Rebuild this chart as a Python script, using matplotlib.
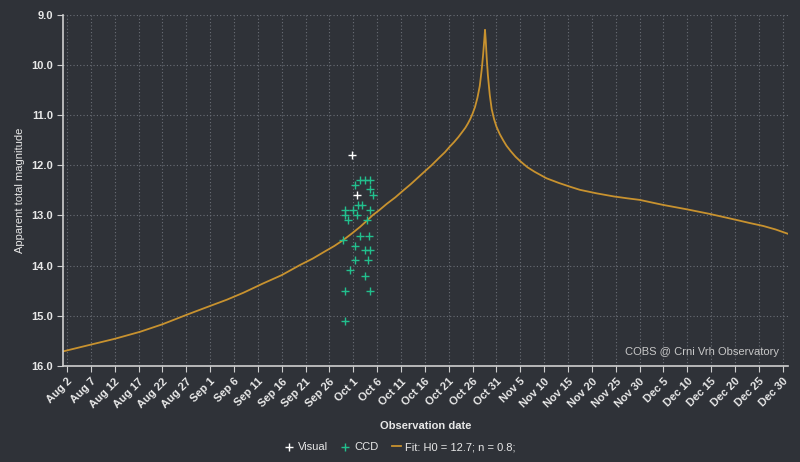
import numpy as np
import matplotlib
matplotlib.use("Agg")
import matplotlib.pyplot as plt
import pandas as pd

plt.rcParams['font.family'] = ['Liberation Sans', 'DejaVu Sans']

start = pd.Timestamp('2024-08-02')

# fitted light curve (days after Aug 2, magnitude)
fit_days = [-0.8, 4.8, 10.0, 15.3, 20.0, 25.1, 29.0, 33.5, 37.0, 41.0, 45.0, 48.8,
            51.5, 54.0, 56.0, 57.9, 59.7, 61.4, 62.8, 64.0, 65.5, 67.0, 68.8,
            70.5, 72.0, 73.5, 75.0, 76.4, 78.1, 79.2, 80.2, 81.1, 82.0, 82.8,
            83.5, 84.0, 84.5, 85.0, 85.5, 86.0, 86.5, 86.9, 87.2, 87.45, 87.6,
            87.75, 87.95, 88.2, 88.6, 89.0, 89.5, 90.0, 90.7, 91.4, 92.1, 93.0,
            94.0, 95.0, 96.5, 98.0, 100.5, 103.0, 105.5, 107.5, 111.0, 114.5,
            117.5, 120.0, 124.9, 130.0, 134.7, 140.3, 143.0, 145.9, 148.5, 151.2]
fit_mag = [15.71, 15.58, 15.46, 15.32, 15.17, 14.98, 14.84, 14.68, 14.54, 14.36, 14.19, 13.99,
           13.86, 13.72, 13.61, 13.49, 13.36, 13.23, 13.11, 13.00, 12.89, 12.77, 12.64,
           12.50, 12.38, 12.25, 12.12, 12.00, 11.84, 11.74, 11.63, 11.54, 11.44, 11.34,
           11.25, 11.17, 11.08, 10.97, 10.84, 10.66, 10.42, 10.10, 9.80, 9.50, 9.30,
           9.50, 9.85, 10.20, 10.60, 10.88, 11.08, 11.23, 11.38, 11.50, 11.61, 11.72,
           11.83, 11.92, 12.04, 12.13, 12.26, 12.35, 12.43, 12.49, 12.56, 12.62,
           12.66, 12.69, 12.79, 12.88, 12.97, 13.09, 13.15, 13.21, 13.28, 13.37]

# visual observations
vis_days = [59.8, 60.8]
vis_mag = [11.79, 12.59]

# CCD observations
ccd_days = [60.3, 61.4, 62.4, 63.5, 63.5, 64.1, 61.0, 61.8, 58.2, 59.9, 63.5,
            58.2, 60.8, 58.9, 62.9, 57.8, 61.4, 63.3, 60.3, 62.4, 63.5, 60.3,
            63.1, 59.3, 62.4, 58.2, 63.5, 58.2]
ccd_mag = [12.39, 12.29, 12.29, 12.29, 12.47, 12.59, 12.79, 12.79, 12.89, 12.89, 12.89,
           12.99, 12.99, 13.09, 13.09, 13.49, 13.41, 13.41, 13.61, 13.69, 13.69, 13.89,
           13.89, 14.09, 14.21, 14.50, 14.50, 15.10]

to_dates = lambda d: start + pd.to_timedelta(np.array(d), unit='D')

bg = '#2f3238'
fig = plt.figure(figsize=(8, 4.62), dpi=100, facecolor=bg)
ax = fig.add_axes([0.079, 0.208, 0.906, 0.76], facecolor=bg)

ax.plot(to_dates(fit_days), fit_mag, color='#c8922f', lw=1.3,
        label='Fit: H0 = 12.7; n = 0.8;', zorder=2, solid_joinstyle='round')
ax.scatter(to_dates(vis_days), vis_mag, marker='+', color='white', s=40,
           linewidths=1.0, label='Visual', zorder=3)
ax.scatter(to_dates(ccd_days), ccd_mag, marker='+', color='#22c08e', s=40,
           linewidths=1.0, label='CCD', zorder=3)

ax.set_ylim(16, 9)
ax.set_yticks(np.arange(9, 16.5, 1))
ax.yaxis.set_major_formatter(plt.FormatStrFormatter('%.1f'))
ax.set_xlim(to_dates([-0.8])[0], to_dates([151.1])[0])
ticks = pd.date_range('2024-08-02', '2024-12-30', freq='5D')
ax.set_xticks(ticks)
ax.set_xticklabels([f"{t.strftime('%b')} {t.day}" for t in ticks],
                   rotation=45, ha='right', rotation_mode='anchor')

ax.grid(True, color='#6a6e76', linestyle=(0, (1, 2)), lw=0.8)
for s in ['top', 'right']:
    ax.spines[s].set_visible(False)
for s in ['left', 'bottom']:
    ax.spines[s].set_color('#cfcfcf')
    ax.spines[s].set_linewidth(1.2)
ax.tick_params(colors='#cfcfcf', labelcolor='#e8e8e8', labelsize=8, length=4)
for lab in ax.get_xticklabels() + ax.get_yticklabels():
    lab.set_fontweight('bold')

ax.set_xlabel('Observation date', color='#e8e8e8', fontsize=8, fontweight='bold', labelpad=8)
ax.set_ylabel('Apparent total magnitude', color='#e8e8e8', fontsize=8, labelpad=4)

ax.text(0.988, 0.025, 'COBS @ Crni Vrh Observatory', transform=ax.transAxes,
        ha='right', va='bottom', color='#c8c8c8', fontsize=8)

h, l = ax.get_legend_handles_labels()
order = [1, 2, 0]
leg = fig.legend([h[i] for i in order], [l[i] for i in order], loc='center',
                 bbox_to_anchor=(0.5, 0.032), ncol=3, frameon=False, fontsize=8,
                 handlelength=0.8, handletextpad=0.4, columnspacing=1.2)
for t in leg.get_texts():
    t.set_color('#e8e8e8')

fig.savefig('out.png', dpi=100, facecolor=bg)
